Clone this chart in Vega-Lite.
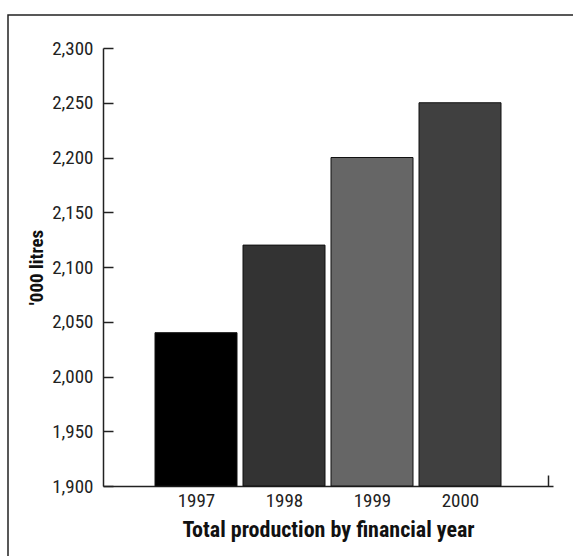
{
  "$schema": "https://vega.github.io/schema/vega-lite/v6.json",
  "width": 575,
  "height": 551,
  "autosize": {"type": "none"},
  "padding": {"left": 8, "top": 15, "right": -10, "bottom": -10},
  "background": "white",
  "config": {
    "view": {"stroke": "#222222", "strokeWidth": 1.5},
    "font": "Roboto Condensed, Open Sans Condensed, Liberation Sans, sans-serif",
    "axis": {
      "grid": false,
      "domainColor": "#222222",
      "domainWidth": 1.5,
      "tickColor": "#222222",
      "tickWidth": 1.5,
      "labelColor": "#222222",
      "labelFontSize": 19,
      "labelFontWeight": "normal",
      "titleColor": "#111111",
      "titleFontWeight": "bold",
      "labelOverlap": false,
      "labelFlush": false
    }
  },
  "data": {
    "values": [
      {"year": 1997, "litres": 2040},
      {"year": 1998, "litres": 2120},
      {"year": 1999, "litres": 2200},
      {"year": 2000, "litres": 2250}
    ]
  },
  "mark": {"type": "bar", "width": 82, "stroke": "#111111", "strokeWidth": 1},
  "encoding": {
    "x": {
      "field": "year",
      "type": "quantitative",
      "scale": {"domain": [1996, 2001], "range": [95, 545], "zero": false, "nice": false},
      "axis": {
        "values": [1997, 1998, 1999, 2000, 2001],
        "format": "d",
        "labelExpr": "datum.value == 2001 ? '' : datum.label",
        "offset": -80,
        "tickSize": -11,
        "tickOpacity": {"condition": {"test": "datum.value == 2001", "value": 1}, "value": 0},
        "labelPadding": 16,
        "title": "Total production by financial year",
        "titleFontSize": 22,
        "titlePadding": 9
      }
    },
    "y": {
      "field": "litres",
      "type": "quantitative",
      "scale": {"domain": [1900, 2300], "range": [471, 33], "zero": false, "nice": false},
      "axis": {
        "values": [1900, 1950, 2000, 2050, 2100, 2150, 2200, 2250, 2300],
        "format": ",d",
        "offset": -95,
        "tickSize": -10,
        "labelPadding": 20,
        "title": "'000 litres",
        "titleFontSize": 19,
        "titlePadding": 5
      }
    },
    "y2": {"datum": 1900},
    "color": {
      "field": "year",
      "type": "nominal",
      "scale": {"domain": [1997, 1998, 1999, 2000], "range": ["#000000", "#333333", "#666666", "#404040"]},
      "legend": null
    }
  }
}
